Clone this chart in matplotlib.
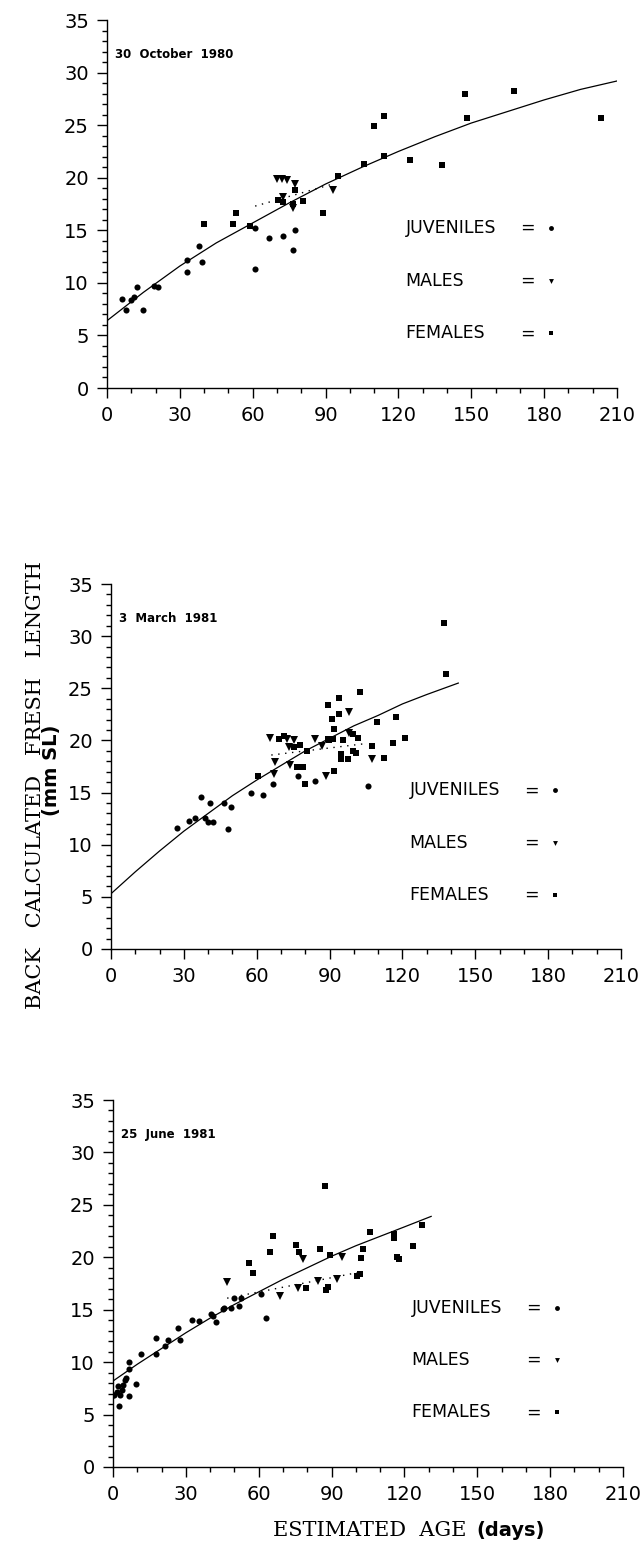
import numpy as np
import matplotlib
matplotlib.use("Agg")
import matplotlib.pyplot as plt
from matplotlib.ticker import MultipleLocator

# ---- 30 October 1980 ----
top_juv_age = [6, 8, 10, 11, 12.5, 15, 19.5, 21, 33, 33, 38, 39, 61, 61, 66.5, 72.5, 77.3, 76.4]
top_juv_len = [8.5, 7.4, 8.4, 8.7, 9.6, 7.4, 9.7, 9.6, 12.2, 11.0, 13.5, 12.0, 15.2, 11.3, 14.3, 14.5, 15.0, 13.1]
top_male_age = [70, 72, 74, 72.5, 76.4, 77.3, 93]
top_male_len = [19.9, 19.9, 19.8, 18.2, 17.1, 19.4, 18.8]
top_fem_age = [40, 52, 53, 59, 70.5, 72.5, 77.5, 76.4, 80.5, 89, 95.3, 106, 110, 114, 114,
               124.7, 138, 147.4, 148.4, 167.7, 203.6]
top_fem_len = [15.6, 15.6, 16.6, 15.4, 17.9, 17.7, 18.8, 17.5, 17.8, 16.6, 20.2, 21.3, 24.9, 25.9, 22.1,
               21.7, 21.2, 28.0, 25.7, 28.2, 25.7]
top_curve_age = [0, 15, 30, 45, 60, 75, 90, 105, 120, 135, 150, 165, 180, 195, 210]
top_curve_len = [6.4, 9.1, 11.6, 13.8, 15.7, 17.6, 19.4, 21.0, 22.5, 23.9, 25.2, 26.3, 27.4, 28.4, 29.2]
top_dot_age = [61, 93]
top_dot_len = [17.3, 19.4]

# ---- 3 March 1981 ----
mid_juv_age = [27, 32, 34.5, 37, 38.5, 40, 40.7, 42, 46.6, 48, 49.6, 57.7, 62.4, 66.9, 77, 84, 105.7]
mid_juv_len = [11.6, 12.3, 12.6, 14.6, 12.6, 12.2, 14.0, 12.2, 14.0, 11.5, 13.6, 15.0, 14.8, 15.8, 16.6, 16.1, 15.6]
mid_male_age = [65.5, 67.1, 67.4, 72.6, 73.2, 73.9, 75.3, 84.1, 86.8, 88.7, 97.9, 98, 107.5]
mid_male_len = [20.2, 16.8, 17.9, 20.1, 19.4, 17.6, 20.0, 20.1, 19.5, 16.6, 22.7, 20.7, 18.2]
mid_fem_age = [60.4, 69.2, 71.2, 75.3, 76.6, 78, 79, 80, 80.7, 89.5, 89.5, 89.9, 90.8, 91.5, 91.8, 91.8,
               93.8, 93.8, 94.9, 94.9, 95.6, 97.6, 99.6, 99.6, 100.7, 101.7, 102.6, 107.5, 109.4,
               112.5, 116.3, 117.2, 121, 137, 138]
mid_fem_len = [16.6, 20.1, 20.4, 19.4, 17.5, 19.6, 17.5, 15.8, 19.0, 20.1, 23.4, 20.0, 22.1, 20.1, 21.1, 17.1,
               24.1, 22.5, 18.7, 18.2, 20.0, 18.2, 20.6, 19.0, 18.8, 20.2, 24.6, 19.5, 21.8,
               18.3, 19.8, 22.2, 20.2, 31.3, 26.4]
mid_curve_age = [0, 10, 20, 30, 40, 50, 60, 70, 80, 90, 100, 110, 120, 130, 143]
mid_curve_len = [5.3, 7.4, 9.4, 11.3, 13.0, 14.7, 16.2, 17.6, 19.0, 20.2, 21.4, 22.4, 23.5, 24.4, 25.5]
mid_dot_age = [66, 105]
mid_dot_len = [18.6, 19.7]

# ---- 25 June 1981 ----
bot_juv_age = [0, 0.3, 1.5, 2, 2.5, 3, 3.5, 4.3, 4.8, 5.5, 6.6, 6.6, 6.6, 9.4, 11.6, 17.7, 17.7, 21.6,
               22.5, 26.7, 27.4, 32.5, 35.6, 40.5, 41.3, 42.5, 45.1, 45.9, 48.7, 49.8, 51.8, 52.8, 60.9, 62.9]
bot_juv_len = [6.9, 6.9, 7.2, 7.7, 5.8, 6.9, 7.3, 7.8, 8.3, 8.5, 9.3, 10.0, 6.8, 7.9, 10.8, 10.8, 12.3, 11.5,
               12.1, 13.3, 12.1, 14.0, 13.9, 14.6, 14.4, 13.8, 15.1, 15.2, 15.2, 16.1, 15.4, 16.1, 16.5, 14.2]
bot_male_age = [47, 68.6, 76, 78.2, 84.5, 92.2, 94.2]
bot_male_len = [17.6, 16.3, 17.1, 19.8, 17.7, 17.9, 20.0]
bot_fem_age = [56, 57.5, 64.7, 65.8, 75.5, 76.6, 79.5, 85.4, 87.3, 87.5, 88.5, 89.3, 100.3, 101.5, 102,
               103, 106, 115.6, 115.6, 116.8, 117.6, 123.5, 127.4]
bot_fem_len = [19.5, 18.5, 20.5, 22.0, 21.2, 20.5, 17.1, 20.8, 26.8, 16.9, 17.2, 20.2, 18.2, 18.4, 19.9,
               20.8, 22.4, 22.2, 21.8, 20.0, 19.8, 21.1, 23.1]
bot_curve_age = [0, 10, 20, 30, 40, 50, 60, 70, 80, 90, 100, 110, 120, 131]
bot_curve_len = [8.2, 9.8, 11.3, 12.8, 14.2, 15.5, 16.7, 17.9, 19.0, 20.1, 21.1, 22.0, 22.9, 23.9]
bot_dot_age = [47, 102]
bot_dot_len = [16.1, 18.6]

panel_titles = ["30  October  1980", "3  March  1981", "25  June  1981"]
legend_names = ["JUVENILES", "MALES", "FEMALES"]
legend_markers = ["o", "v", "s"]
legend_len = [15.2, 10.2, 5.2]

W, H = 640, 1543
fig = plt.figure(figsize=(W / 100, H / 100), dpi=100)
sans = "DejaVu Sans"
serif = "DejaVu Serif"


def draw_panel(ax, juv, males, fems, curve, dots, title):
    ax.plot(curve[0], curve[1], color="black", lw=0.9)
    ax.plot(dots[0], dots[1], color="black", lw=1.0, ls=(0, (1, 4)))
    ax.plot(juv[0], juv[1], "o", color="black", ms=4.4, mew=0)
    ax.plot(males[0], males[1], "v", color="black", ms=5.2, mew=0)
    ax.plot(fems[0], fems[1], "s", color="black", ms=4.3, mew=0)

    ax.set_xlim(0, 210)
    ax.set_ylim(0, 35)
    for s in ["top", "right"]:
        ax.spines[s].set_visible(False)
    for s in ["left", "bottom"]:
        ax.spines[s].set_linewidth(1.0)
    ax.xaxis.set_major_locator(MultipleLocator(30))
    ax.xaxis.set_minor_locator(MultipleLocator(10))
    ax.yaxis.set_major_locator(MultipleLocator(5))
    ax.yaxis.set_minor_locator(MultipleLocator(1))
    ax.tick_params(which="major", direction="out", length=7, width=1.0, pad=6,
                   labelsize=14)
    ax.tick_params(which="minor", direction="out", length=3.5, width=1.0)

    ax.text(3.2, 31.7, title, fontsize=8.5, fontweight="bold", family=sans,
            va="center", ha="left")
    for name, m, yv in zip(legend_names, legend_markers, legend_len):
        ax.text(123, yv, name, fontsize=12.5, family=sans, va="center", ha="left")
        ax.text(173, yv, "=", fontsize=12.5, family=sans, va="center", ha="center")
        ax.plot([183], [yv], m, color="black", ms=3.5, mew=0, clip_on=False)


boxes = [(107, 20, 388), (111, 584, 949), (113, 1100, 1467)]
xlen = 510
data = [
    ((top_juv_age, top_juv_len), (top_male_age, top_male_len), (top_fem_age, top_fem_len),
     (top_curve_age, top_curve_len), (top_dot_age, top_dot_len)),
    ((mid_juv_age, mid_juv_len), (mid_male_age, mid_male_len), (mid_fem_age, mid_fem_len),
     (mid_curve_age, mid_curve_len), (mid_dot_age, mid_dot_len)),
    ((bot_juv_age, bot_juv_len), (bot_male_age, bot_male_len), (bot_fem_age, bot_fem_len),
     (bot_curve_age, bot_curve_len), (bot_dot_age, bot_dot_len)),
]
for (x0, ytop, ybot), d, title in zip(boxes, data, panel_titles):
    ax = fig.add_axes([x0 / W, 1 - ybot / H, xlen / W, (ybot - ytop) / H])
    ax.patch.set_alpha(0)
    draw_panel(ax, *d, title)

# axis titles: serif words with bold sans units, as in the original
fig.text(36 / W, 1 - 785 / H, "BACK   CALCULATED   FRESH   LENGTH", rotation=90,
         family=serif, fontsize=15, ha="center", va="center")
fig.text(52 / W, 1 - 770 / H, "(mm SL)", rotation=90, family=sans,
         fontweight="bold", fontsize=14, ha="center", va="center")
fig.text(466 / W, 1 - 1530 / H, "ESTIMATED  AGE", family=serif, fontsize=15,
         ha="right", va="center")
fig.text(476 / W, 1 - 1530 / H, "(days)", family=sans, fontweight="bold",
         fontsize=14, ha="left", va="center")

fig.savefig("out.png", dpi=100, facecolor="white")
